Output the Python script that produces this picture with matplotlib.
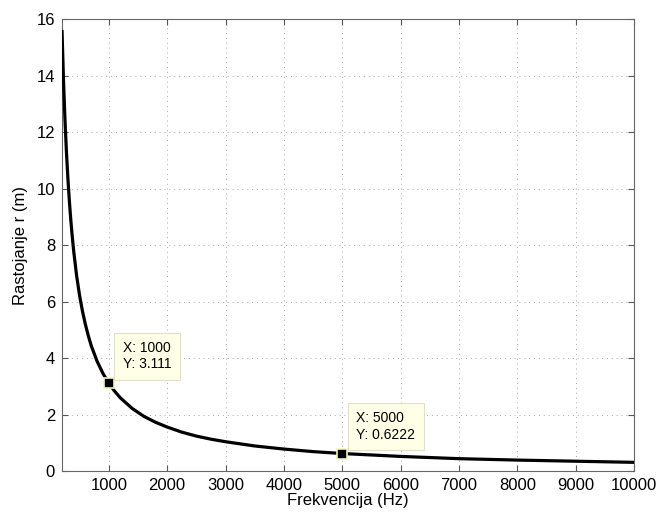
import matplotlib
matplotlib.use("Agg")
import matplotlib.pyplot as plt

plt.rcParams["font.family"] = ["Liberation Sans", "DejaVu Sans"]

# distance vs. frequency
freq = [200, 225, 250, 275, 300, 325, 350, 375, 400, 450, 500, 550, 600, 650, 700,
        800, 900, 1000, 1100, 1200, 1400, 1600, 1800, 2000, 2250, 2500, 2750, 3000,
        3500, 4000, 4500, 5000, 6000, 7000, 8000, 9000, 10000]
dist = [15.56, 13.83, 12.44, 11.31, 10.37, 9.57, 8.89, 8.30, 7.78, 6.91, 6.22, 5.66,
        5.19, 4.79, 4.44, 3.89, 3.46, 3.111, 2.83, 2.59, 2.22, 1.94, 1.73, 1.56, 1.38,
        1.24, 1.13, 1.04, 0.89, 0.78, 0.69, 0.6222, 0.52, 0.44, 0.39, 0.35, 0.31]

tip_x = [1000, 5000]
tip_y = [3.111, 0.6222]

fig = plt.figure(figsize=(6.6, 5.16), dpi=100)
ax = fig.add_axes([0.094, 0.087, 0.867, 0.876])

ax.plot(freq, dist, color="black", linewidth=2.3, zorder=3)

for x, y in zip(tip_x, tip_y):
    ax.plot(x, y, marker="s", markersize=7.5, markerfacecolor="black",
            markeredgecolor="#f2f2c0", markeredgewidth=1.2, zorder=5)
    ax.annotate(f"X: {x}\nY: {y:g}", xy=(x, y), xytext=(14, 12),
                textcoords="offset pixels", ha="left", va="bottom",
                fontsize=10, linespacing=1.2, zorder=6,
                bbox=dict(boxstyle="square,pad=0.6", facecolor="#ffffe8",
                          edgecolor="#e0e0c8", linewidth=0.8))

ax.set_xlim(200, 10000)
ax.set_ylim(0, 16)
ax.set_xticks(range(1000, 10001, 1000))
ax.set_yticks(range(0, 17, 2))
ax.grid(True, linestyle=(0, (1, 4)), color="#a8a8a8", linewidth=0.7)
ax.tick_params(direction="in", top=True, right=True, labelsize=12,
               color="#555555", length=4, pad=5)
for sp in ax.spines.values():
    sp.set_color("#666666")
    sp.set_linewidth(0.8)

ax.set_xlabel("Frekvencija (Hz)", fontsize=12, labelpad=0)
ax.set_ylabel("Rastojanje r (m)", fontsize=12, labelpad=6)

fig.savefig("out.png", dpi=100)
